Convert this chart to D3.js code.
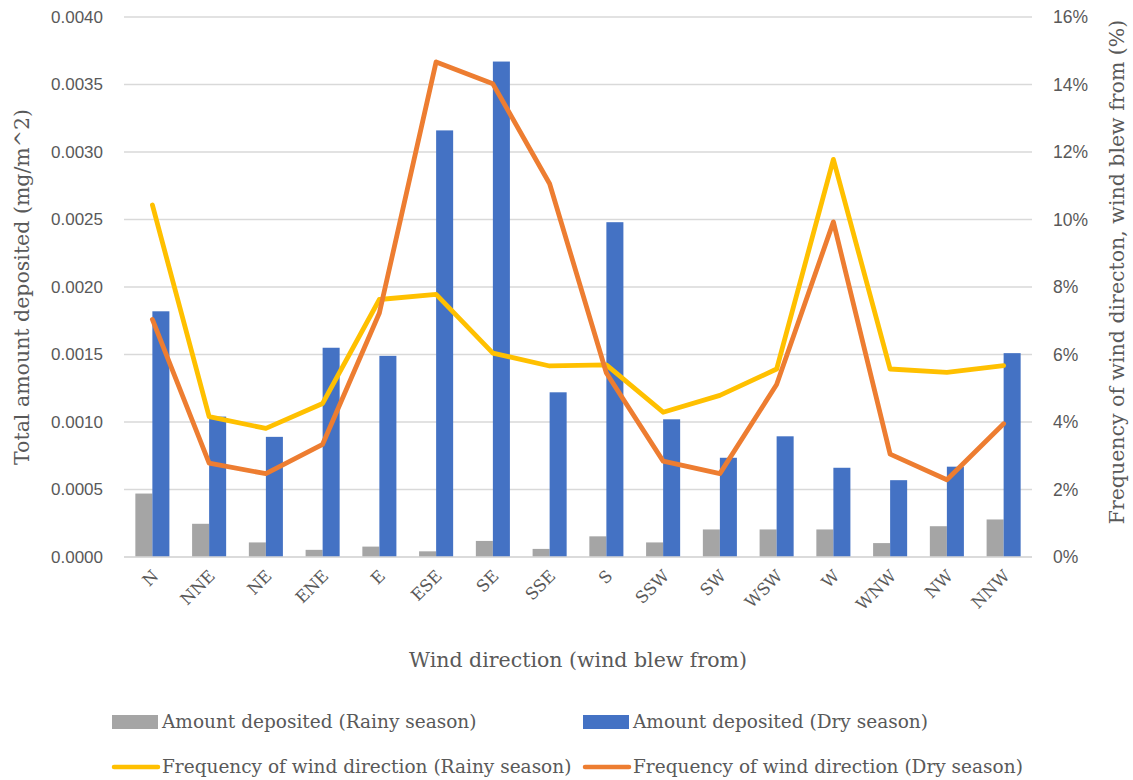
<!DOCTYPE html>
<html>
<head>
<meta charset="utf-8">
<script src="https://cdn.jsdelivr.net/npm/d3@7"></script>
<style>
  body { margin: 0; background: #fff; }
  svg { font-family: "DejaVu Serif", serif; }
  .grid line { stroke: #d9d9d9; stroke-width: 1.5; }
  .tick text, .label { fill: #595959; }
</style>
</head>
<body>
<svg id="chart" width="1133" height="780"></svg>
<script>
var directions = ['N', 'NNE', 'NE', 'ENE', 'E', 'ESE', 'SE', 'SSE', 'S', 'SSW', 'SW', 'WSW', 'W', 'WNW', 'NW', 'NNW']
var amountRainy = [0.00047, 0.000246, 0.000108, 0.000053, 0.000077, 0.000042, 0.000119, 0.00006, 0.000153, 0.000108, 0.000204, 0.000204, 0.000204, 0.000103, 0.000228, 0.000278]
var amountDry = [0.00182, 0.00104, 0.00089, 0.00155, 0.00149, 0.00316, 0.00367, 0.00122, 0.00248, 0.00102, 0.000735, 0.000894, 0.000661, 0.000569, 0.000669, 0.00151]
var freqRainy = [10.43, 4.16, 3.81, 4.55, 7.63, 7.78, 6.04, 5.66, 5.69, 4.29, 4.79, 5.57, 11.78, 5.57, 5.47, 5.67]
var freqDry = [7.04, 2.78, 2.47, 3.34, 7.23, 14.67, 14.02, 11.06, 5.45, 2.84, 2.47, 5.11, 9.93, 3.05, 2.29, 3.95]
var leftTicks = [0, 0.0005, 0.001, 0.0015, 0.002, 0.0025, 0.003, 0.0035, 0.004]
var rightTicks = [0, 2, 4, 6, 8, 10, 12, 14, 16]

var svg = d3.select('#chart')
var plotLeft = 124, plotRight = 1032, plotTop = 17, plotBottom = 557

var x = d3.scaleBand().domain(directions).range([plotLeft, plotRight]).paddingInner(0.4).paddingOuter(0.2)
var x1 = d3.scaleBand().domain(['rainy', 'dry']).range([0, x.bandwidth()])
var yL = d3.scaleLinear().domain([0, 0.004]).range([plotBottom, plotTop])
var yR = d3.scaleLinear().domain([0, 16]).range([plotBottom, plotTop])

// gridlines
svg.append('g').attr('class', 'grid')
  .selectAll('line').data(leftTicks).enter().append('line')
  .attr('x1', plotLeft).attr('x2', plotRight)
  .attr('y1', function(d) { return yL(d) }).attr('y2', function(d) { return yL(d) })

// left axis
var axL = svg.append('g').attr('transform', 'translate(' + plotLeft + ',0)')
  .call(d3.axisLeft(yL).tickValues(leftTicks).tickFormat(d3.format('.4f')).tickSize(0).tickPadding(21))
axL.select('.domain').remove()
axL.selectAll('text').attr('font-size', 17).attr('font-family', null)

// right axis
var axR = svg.append('g').attr('transform', 'translate(' + plotRight + ',0)')
  .call(d3.axisRight(yR).tickValues(rightTicks).tickFormat(function(d) { return d + '%' }).tickSize(0).tickPadding(21))
axR.select('.domain').remove()
axR.selectAll('text').attr('font-size', 17.5).attr('font-family', null)

// bars
var seriesBars = [
  { key: 'rainy', values: amountRainy, color: '#a5a5a5' },
  { key: 'dry', values: amountDry, color: '#4472c4' }
]
seriesBars.forEach(function(s) {
  svg.append('g').selectAll('rect').data(s.values).enter().append('rect')
    .attr('x', function(d, i) { return x(directions[i]) + x1(s.key) })
    .attr('width', x1.bandwidth())
    .attr('y', function(d) { return yL(d) })
    .attr('height', function(d) { return yL(0) - yL(d) })
    .attr('fill', s.color)
})

// baseline
svg.append('line').attr('x1', plotLeft).attr('x2', plotRight)
  .attr('y1', yL(0)).attr('y2', yL(0)).attr('stroke', '#d9d9d9').attr('stroke-width', 1.5)

// lines
var line = d3.line()
  .x(function(d, i) { return x(directions[i]) + x.bandwidth() / 2 })
  .y(function(d) { return yR(d) })
var seriesLines = [
  { values: freqRainy, color: '#ffc000' },
  { values: freqDry, color: '#ed7d31' }
]
seriesLines.forEach(function(s) {
  svg.append('path').attr('d', line(s.values))
    .attr('fill', 'none').attr('stroke', s.color).attr('stroke-width', 4.8)
    .attr('stroke-linecap', 'round').attr('stroke-linejoin', 'round')
})

// category labels
svg.append('g').selectAll('text').data(directions).enter().append('text')
  .attr('class', 'label')
  .attr('font-size', 16.5)
  .attr('text-anchor', 'end')
  .attr('transform', function(d) {
    return 'translate(' + (x(d) + x.bandwidth() / 2 + 7) + ',' + 577 + ') rotate(-45)'
  })
  .text(function(d) { return d })

// axis titles
svg.append('text').attr('class', 'label').attr('font-size', 20.5)
  .attr('text-anchor', 'middle')
  .attr('transform', 'translate(29,' + ((plotTop + plotBottom) / 2) + ') rotate(-90)')
  .text('Total amount deposited (mg/m^2)')
svg.append('text').attr('class', 'label').attr('font-size', 20.5)
  .attr('text-anchor', 'middle')
  .attr('transform', 'translate(1124,272) rotate(-90)')
  .text('Frequency of wind directon, wind blew from (%)')
svg.append('text').attr('class', 'label').attr('font-size', 20.5)
  .attr('text-anchor', 'middle')
  .attr('x', 578).attr('y', 667)
  .text('Wind direction (wind blew from)')

// legend
var legend = [
  { name: 'Amount deposited (Rainy season)', color: '#a5a5a5', type: 'bar', x: 112, y: 722 },
  { name: 'Amount deposited (Dry season)', color: '#4472c4', type: 'bar', x: 583, y: 722 },
  { name: 'Frequency of wind direction (Rainy season)', color: '#ffc000', type: 'line', x: 112, y: 767 },
  { name: 'Frequency of wind direction (Dry season)', color: '#ed7d31', type: 'line', x: 583, y: 767 }
]
var lg = svg.append('g').selectAll('g').data(legend).enter().append('g')
  .attr('transform', function(d) { return 'translate(' + d.x + ',' + d.y + ')' })
lg.each(function(d) {
  var g = d3.select(this)
  if (d.type === 'bar') {
    g.append('rect').attr('x', 0).attr('y', -7).attr('width', 46).attr('height', 14).attr('fill', d.color)
  } else {
    g.append('line').attr('x1', 2).attr('x2', 46).attr('y1', 0).attr('y2', 0)
      .attr('stroke', d.color).attr('stroke-width', 4.5).attr('stroke-linecap', 'round')
  }
  g.append('text').attr('class', 'label').attr('x', 50).attr('dy', '0.35em')
    .attr('font-size', 18.5).text(d.name)
})
</script>
</body>
</html>
